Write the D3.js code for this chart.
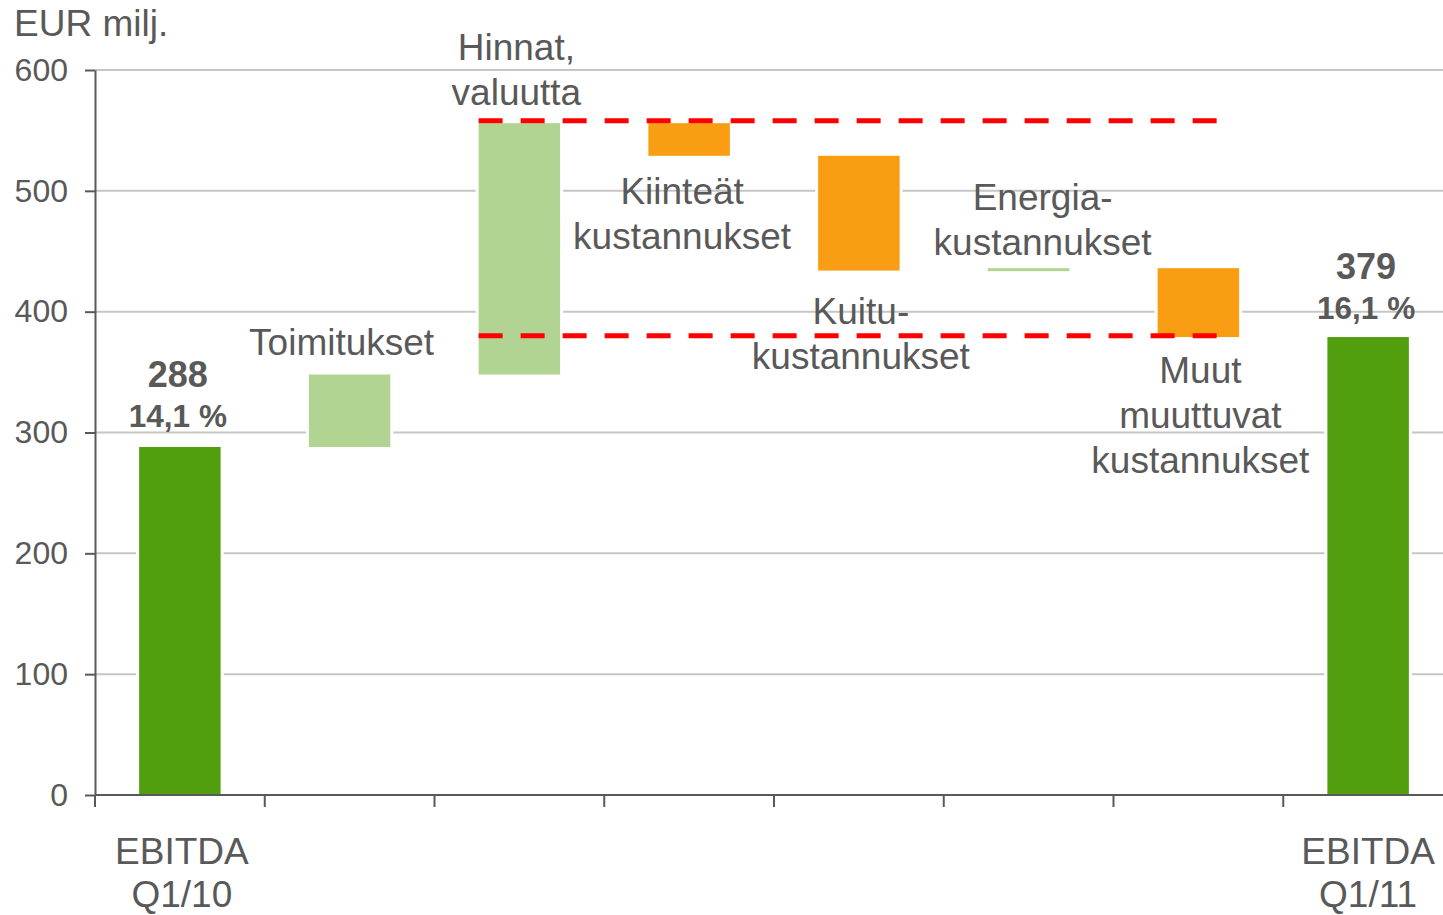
<!DOCTYPE html>
<html>
<head>
<meta charset="utf-8">
<script src="https://cdn.jsdelivr.net/npm/d3@7"></script>
<style>
  body { margin: 0; background: #fff; }
  svg text { font-family: "Liberation Sans", Arial, sans-serif; fill: #595959; }
</style>
</head>
<body>
<svg id="chart"></svg>
<script>
// data (EUR milj.)
var categories = ["EBITDA Q1/10", "Toimitukset", "Hinnat, valuutta", "Kiinteät kustannukset",
  "Kuitu-kustannukset", "Energia-kustannukset", "Muut muuttuvat kustannukset", "EBITDA Q1/11"];
var kinds = ["total", "up", "up", "down", "down", "up", "down", "total"];
var deltas = [288, 60, 208, -27, -95, 2, -57, 379];
var labelLines = [
  ["EBITDA", "Q1/10"], ["Toimitukset"], ["Hinnat,", "valuutta"], ["Kiinteät", "kustannukset"],
  ["Kuitu-", "kustannukset"], ["Energia-", "kustannukset"], ["Muut", "muuttuvat", "kustannukset"], ["EBITDA", "Q1/11"]
];
var totalLabels = { "EBITDA Q1/10": ["288", "14,1 %"], "EBITDA Q1/11": ["379", "16,1 %"] };
var refLevels = [558, 380];
var yTicks = [0, 100, 200, 300, 400, 500, 600];

var W = 1443, H = 915;
var svg = d3.select("#chart").attr("width", W).attr("height", H);

var x = d3.scaleBand().domain(categories).range([95, 1453]).paddingInner(0.52).paddingOuter(0.26);
var y = d3.scaleLinear().domain([0, 600]).range([795, 70]);
var step = x.step();

// build waterfall
var run = 0;
var bars = categories.map(function (c, i) {
  var lo, hi;
  if (kinds[i] == "total") { lo = 0; hi = deltas[i]; run = deltas[i]; }
  else { var a = run; run = run + deltas[i]; lo = Math.min(a, run); hi = Math.max(a, run); }
  return { cat: c, kind: kinds[i], lo: lo, hi: hi };
});
var color = { total: "#519e0e", up: "#b2d493", down: "#f99d12" };

// gridlines
svg.append("g").selectAll("line").data(yTicks.filter(function (d) { return d > 0; }))
  .enter().append("line")
  .attr("x1", 95).attr("x2", W)
  .attr("y1", function (d) { return y(d); }).attr("y2", function (d) { return y(d); })
  .attr("stroke", "#c6c6c6").attr("stroke-width", 2);

// white halo + bars
var bg = svg.append("g");
bg.selectAll("rect.halo").data(bars).enter().append("rect")
  .attr("x", function (d) { return x(d.cat) - 3; })
  .attr("y", function (d) { return y(d.hi) - 3; })
  .attr("width", x.bandwidth() + 6)
  .attr("height", function (d) { return y(d.lo) - y(d.hi) + 6; })
  .attr("fill", "#fff");
bg.selectAll("rect.bar").data(bars).enter().append("rect")
  .attr("x", function (d) { return x(d.cat); })
  .attr("y", function (d) { return y(d.hi); })
  .attr("width", x.bandwidth())
  .attr("height", function (d) { return Math.max(3, y(d.lo) - y(d.hi)); })
  .attr("fill", function (d) { return color[d.kind]; });

// y axis
var yAxis = svg.append("g").attr("transform", "translate(95,0)")
  .call(d3.axisLeft(y).tickValues(yTicks).tickSize(10).tickSizeOuter(0).tickPadding(17));
yAxis.select(".domain").attr("stroke", "#595959").attr("stroke-width", 2);
yAxis.selectAll(".tick line").attr("stroke", "#595959").attr("stroke-width", 2);
yAxis.selectAll(".tick text").style("font-size", "32px").style("font-family", "Liberation Sans, Arial, sans-serif").attr("fill", "#595959");

// x axis line and ticks at band boundaries
svg.append("line").attr("x1", 95).attr("x2", W).attr("y1", 795).attr("y2", 795)
  .attr("stroke", "#595959").attr("stroke-width", 2);
svg.append("g").selectAll("line").data(categories).enter().append("line")
  .attr("x1", function (d) { return x(d) - step * 0.26; })
  .attr("x2", function (d) { return x(d) - step * 0.26; })
  .attr("y1", 795).attr("y2", 807)
  .attr("stroke", "#595959").attr("stroke-width", 2);

// dashed reference lines
var xStart = x(categories[2]);
var xEnd = x(categories[6]) + x.bandwidth() * 0.76;
svg.append("g").selectAll("line").data(refLevels).enter().append("line")
  .attr("x1", xStart).attr("x2", xEnd)
  .attr("y1", function (d) { return y(d); }).attr("y2", function (d) { return y(d); })
  .attr("stroke", "#ff0000").attr("stroke-width", 5).attr("stroke-dasharray", "24,18");

// unit label
svg.append("text").attr("x", 14).attr("y", 36).style("font-size", "37px").text("EUR milj.");

// category labels: [x offset from bar centre, first baseline]
var labelPos = [[2, 864], [-8, 355], [-3, 60], [-7, 204], [2, 324], [14, 210], [2, 383], [0, 864]];
var g = svg.append("g");
categories.forEach(function (c, i) {
  var cx = x(c) + x.bandwidth() / 2 + labelPos[i][0];
  var t = g.append("text").attr("text-anchor", "middle").style("font-size", "37px");
  labelLines[i].forEach(function (s, j) {
    var gap = (i == 0 || i == 7) ? 43 : 45;
    t.append("tspan").attr("x", cx).attr("y", labelPos[i][1] + j * gap).text(s);
  });
});

// value labels above totals
var valBase = { "EBITDA Q1/10": 387, "EBITDA Q1/11": 279 };
Object.keys(totalLabels).forEach(function (c) {
  var cx = x(c) + x.bandwidth() / 2 - 2;
  svg.append("text").attr("x", cx).attr("y", valBase[c]).attr("text-anchor", "middle")
    .style("font-size", "36px").style("font-weight", "bold").text(totalLabels[c][0]);
  svg.append("text").attr("x", cx).attr("y", valBase[c] + 40).attr("text-anchor", "middle")
    .style("font-size", "31.5px").style("font-weight", "bold").text(totalLabels[c][1]);
});
</script>
</body>
</html>
